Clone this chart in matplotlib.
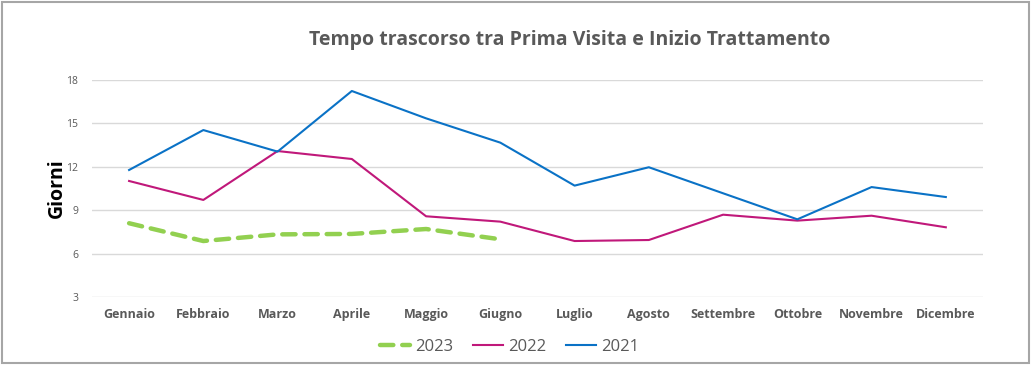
import matplotlib.pyplot as plt
from matplotlib.patches import Rectangle

plt.rcParams['font.family'] = ['Open Sans', 'DejaVu Sans']

mesi = ['Gennaio', 'Febbraio', 'Marzo', 'Aprile', 'Maggio', 'Giugno',
        'Luglio', 'Agosto', 'Settembre', 'Ottobre', 'Novembre', 'Dicembre']
giorni_2023 = [8.1, 6.87, 7.33, 7.36, 7.7, 6.99]
giorni_2022 = [11.02, 9.71, 13.09, 12.54, 8.58, 8.21, 6.87, 6.94, 8.69, 8.28, 8.62, 7.82]
giorni_2021 = [11.78, 14.54, 13.05, 17.24, 15.35, 13.67, 10.7, 11.97, 10.17, 8.37, 10.6, 9.91]
y_ticks = [3, 6, 9, 12, 15, 18]

fig = plt.figure(figsize=(10.31, 3.67), dpi=100)
ax = fig.add_axes([0.0892, 0.1907, 0.8642, 0.5913])

x = list(range(len(mesi)))
ax.plot(x[:len(giorni_2023)], giorni_2023, color='#92D050', lw=3.2,
        ls=(0, (3, 2)), solid_capstyle='round', dash_capstyle='round', label='2023')
ax.plot(x, giorni_2022, color='#C0187A', lw=1.5, label='2022')
ax.plot(x, giorni_2021, color='#0A72C6', lw=1.5, label='2021')

ax.set_xlim(-0.5, 11.5)
ax.set_ylim(3, 18)
ax.set_yticks(y_ticks)
ax.set_xticks(x)
ax.set_xticklabels(mesi, fontsize=9, fontweight='bold', color='#595959')
ax.tick_params(axis='y', labelsize=7.5, labelcolor='#595959', length=0, pad=10)
ax.tick_params(axis='x', length=0, pad=8)
ax.grid(axis='y', color='#D9D9D9', lw=1)
ax.set_axisbelow(True)
for s in ax.spines.values():
    s.set_visible(False)

ax.set_ylabel('Giorni', fontsize=14, fontweight='bold', color='black')
ax.yaxis.set_label_coords(-0.028, 0.5)
fig.text(0.553, 0.89, 'Tempo trascorso tra Prima Visita e Inizio Trattamento',
         ha='center', va='center', fontsize=14, fontweight='bold', color='#595959')

fig.legend(loc='center', bbox_to_anchor=(0.494, 0.054), ncol=3, frameon=False,
           fontsize=12, handlelength=1.8, handletextpad=0.3, columnspacing=1.2,
           labelcolor='#595959')

fig.patches.append(Rectangle((0.002, 0.01), 0.996, 0.985, transform=fig.transFigure,
                             fill=False, edgecolor='#A6A6A6', lw=1.5))

fig.savefig('out.png', dpi=100)
